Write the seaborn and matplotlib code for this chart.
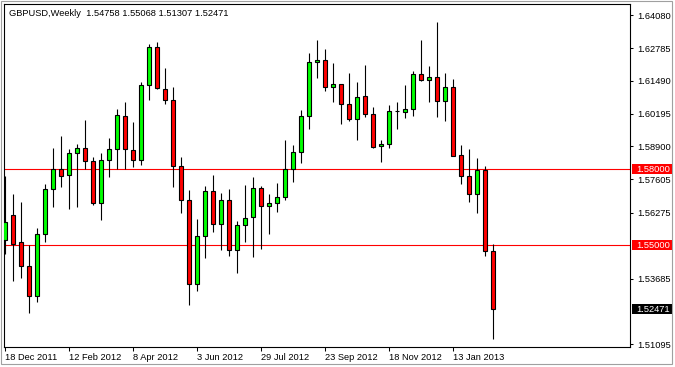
import numpy as np
import pandas as pd
import matplotlib
matplotlib.use("Agg")
import matplotlib.pyplot as plt
import seaborn as sns
from matplotlib.patches import Rectangle
from matplotlib.transforms import blended_transform_factory

# ---- data (weekly GBPUSD candles, 18 Dec 2011 .. 17 Feb 2013) ----
weeks = pd.date_range("2011-12-18", periods=62, freq="7D")
opens = [1.55209, 1.56184, 1.55119, 1.54183, 1.52987, 1.55434, 1.57211, 1.58000,
         1.57763, 1.58632, 1.58829, 1.58316, 1.56658, 1.58367, 1.58789, 1.60092,
         1.58750, 1.58355, 1.61315, 1.62815, 1.61181, 1.60723, 1.58118, 1.56776,
         1.53461, 1.55356, 1.57132, 1.55829, 1.56776, 1.54803, 1.55790, 1.56105,
         1.57250, 1.56540, 1.56658, 1.56895, 1.58000, 1.58671, 1.60092, 1.62223,
         1.62302, 1.61237, 1.61355, 1.60566, 1.59974, 1.60881, 1.60171, 1.58908,
         1.58987, 1.60289, 1.60250, 1.60368, 1.61750, 1.61513, 1.61631, 1.60684,
         1.61237, 1.58553, 1.57724, 1.57013, 1.57984, 1.54758]
highs = [1.57736, 1.57025, 1.56709, 1.55012, 1.55683, 1.57420, 1.58841, 1.59314,
         1.58789, 1.58999, 1.59946, 1.58474, 1.58632, 1.59247, 1.60380, 1.60656,
         1.59867, 1.61458, 1.62946, 1.63013, 1.61998, 1.61237, 1.58485, 1.57183,
         1.56038, 1.57353, 1.57775, 1.57053, 1.57211, 1.55959, 1.57392, 1.57696,
         1.57341, 1.57025, 1.57459, 1.59156, 1.58947, 1.60329, 1.62579, 1.63103,
         1.62748, 1.62184, 1.61355, 1.61801, 1.61434, 1.62105, 1.60447, 1.59145,
         1.60526, 1.60644, 1.61315, 1.61880, 1.63103, 1.62077, 1.63814, 1.61801,
         1.61552, 1.58959, 1.58801, 1.58446, 1.58130, 1.55068]
lows = [1.54657, 1.53603, 1.53721, 1.52316, 1.52774, 1.55142, 1.56524, 1.57290,
        1.56445, 1.56500, 1.58000, 1.56603, 1.56011, 1.57708, 1.58000, 1.58000,
        1.58079, 1.58170, 1.60735, 1.61158, 1.60577, 1.57313, 1.56287, 1.52644,
        1.53208, 1.54511, 1.55537, 1.54827, 1.54590, 1.53919, 1.55131, 1.54550,
        1.54866, 1.55458, 1.56326, 1.56776, 1.57511, 1.58260, 1.59579, 1.61615,
        1.61102, 1.60668, 1.59768, 1.59895, 1.59145, 1.60052, 1.58853, 1.58276,
        1.58829, 1.59602, 1.60013, 1.60104, 1.61497, 1.60668, 1.60076, 1.59918,
        1.58537, 1.57432, 1.56709, 1.56287, 1.54590, 1.51307]
closes = [1.55908, 1.55040, 1.54171, 1.52987, 1.55434, 1.57211, 1.58000, 1.57747,
          1.58632, 1.58829, 1.58316, 1.56658, 1.58355, 1.58801, 1.60143, 1.58789,
          1.58355, 1.61315, 1.62815, 1.61197, 1.60723, 1.58118, 1.56776, 1.53461,
          1.55356, 1.57132, 1.55829, 1.56776, 1.54803, 1.55790, 1.56066, 1.57250,
          1.56540, 1.56658, 1.56895, 1.58000, 1.58671, 1.60092, 1.62223, 1.62302,
          1.61237, 1.61355, 1.60566, 1.59974, 1.60842, 1.60171, 1.58892, 1.58987,
          1.60289, 1.60289, 1.60368, 1.61750, 1.61513, 1.61631, 1.60684, 1.61237,
          1.58537, 1.57724, 1.57013, 1.57984, 1.54763, 1.52471]

level_lines = [1.58000, 1.55000]
last_price = 1.52471
y_ticks = [1.64080, 1.62785, 1.61490, 1.60195, 1.58900, 1.57605, 1.56275,
           1.53685, 1.51095]
x_tick_labels = ["18 Dec 2011", "12 Feb 2012", "8 Apr 2012", "3 Jun 2012",
                 "29 Jul 2012", "23 Sep 2012", "18 Nov 2012", "13 Jan 2013"]
header = "GBPUSD,Weekly  1.54758 1.55068 1.51307 1.52471"

# ---- style ----
sns.set_style("white")
plt.rcParams["font.family"] = ["Liberation Sans", "DejaVu Sans"]
FS = 6.7

W, H = 675, 367
fig = plt.figure(figsize=(W / 100, H / 100), dpi=100)
fig.patch.set_facecolor("white")
AX_L, AX_R, AX_T, AX_B = 4, 630, 4, 347
ax = fig.add_axes([AX_L / W, (H - AX_B) / H, (AX_R - AX_L) / W, (AX_B - AX_T) / H])
ax.set_facecolor("white")

df = pd.DataFrame({"week": weeks, "open": opens, "high": highs,
                   "low": lows, "close": closes})
df["idx"] = np.arange(len(df))
up = df["close"] >= df["open"]

for lv in level_lines:
    ax.axhline(lv, color="#ff0000", lw=0.8, zorder=1)

ax.vlines(df["idx"], df["low"], df["high"], color="black", lw=0.8, zorder=2)
ax.bar(df["idx"], (df["close"] - df["open"]).abs(),
       bottom=np.minimum(df["open"], df["close"]), width=0.6,
       color=np.where(up, "#00ff00", "#ff0000"), edgecolor="black",
       linewidth=0.8, zorder=3)

ax.set_xlim(-0.125, 78.125)
ax.set_ylim(1.50986, 1.64524)

# y axis on right
ax.yaxis.tick_right()
ax.set_yticks(y_ticks)
ax.set_yticklabels([f"{v:.5f}" for v in y_ticks])
ax.tick_params(axis="y", direction="out", length=2.5, width=0.75, pad=3,
               labelsize=FS, colors="black", right=True, left=False)
# x axis
ax.set_xticks(np.arange(0, 8 * len(x_tick_labels), 8))
ax.set_xticklabels(x_tick_labels)
for lab in ax.get_xticklabels():
    lab.set_horizontalalignment("left")
ax.tick_params(axis="x", direction="out", length=3, width=0.75, pad=1.5,
               labelsize=FS, colors="black", bottom=True)
ax.set_xlabel("")
ax.set_ylabel("")
for sp in ax.spines.values():
    sp.set_visible(True)
    sp.set_color("black")
    sp.set_linewidth(0.8)
ax.grid(False)

# price boxes on the right
tr = blended_transform_factory(ax.transAxes, ax.transData)
px_y = (1.64524 - 1.50986) / (AX_B - AX_T)
box_x0 = (632 - AX_L) / (AX_R - AX_L)
box_w = (672 - 632) / (AX_R - AX_L)
text_x = (636 - AX_L) / (AX_R - AX_L)
for val, fc in [(level_lines[0], "#ff0000"), (level_lines[1], "#ff0000"),
                (last_price, "black")]:
    ax.add_patch(Rectangle((box_x0, val - 5 * px_y), box_w, 10 * px_y,
                           transform=tr, facecolor=fc, edgecolor="none",
                           clip_on=False, zorder=5))
    ax.text(text_x, val, f"{val:.5f}", transform=tr, color="white",
            fontsize=FS, va="center", ha="left", clip_on=False, zorder=6)

# header
ax.text((9 - AX_L) / (AX_R - AX_L), 1 - (13 - AX_T) / (AX_B - AX_T), header,
        transform=ax.transAxes, fontsize=FS, color="black", va="center", ha="left")

# outer frame
fig.add_artist(Rectangle((0.5 / W, 3 / H), 671.5 / W, 363 / H,
                         transform=fig.transFigure, fill=False,
                         edgecolor="#a0a0a0", lw=0.8))

fig.savefig("out.png", dpi=100, facecolor="white")
